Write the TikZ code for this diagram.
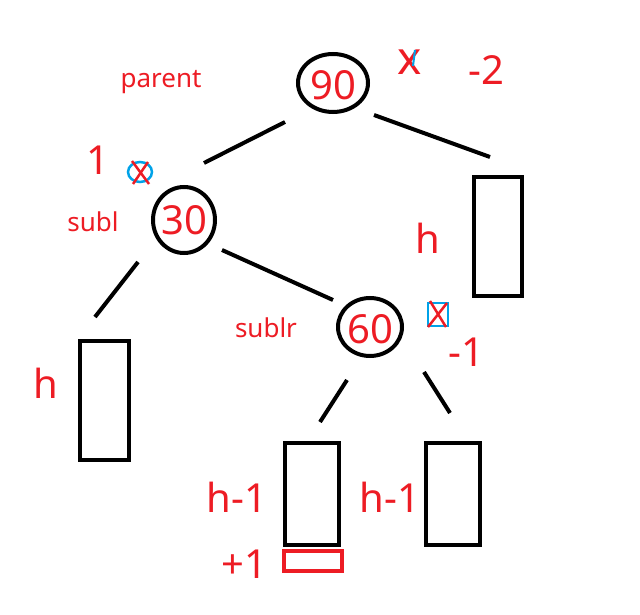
\documentclass[tikz,border=0pt]{standalone}
\usepackage{fontspec}
\setmainfont{Noto Sans}
\usetikzlibrary{shapes.geometric}
\definecolor{hred}{RGB}{237,28,36}
\definecolor{hblue}{RGB}{0,162,232}
\begin{document}
\begin{tikzpicture}[x=1pt,y=-1pt,
  subtree/.style={draw=black,line width=4pt,rectangle,inner sep=0pt},
  edge/.style={draw=black,line width=4pt},
  hand/.style={text=hred,font=\fontsize{40}{40}\selectfont,inner sep=0pt},
  lbl/.style={text=hred,font=\fontsize{26}{26}\selectfont,inner sep=0pt},
  cross/.style={draw=hred,line width=2.5pt},
  ring/.style={draw=hblue,line width=2.5pt}]
\useasboundingbox (0,0) rectangle (640,615);
% tree nodes
\draw[line width=4pt] (333,83) ellipse [x radius=35, y radius=29];
\node[hand] (n90) at (333,85) {90};
\draw[line width=4pt] (184,220) ellipse [x radius=31, y radius=33];
\node[hand] (n30) at (184,220) {30};
\draw[line width=4pt] (370,327) ellipse [x radius=32, y radius=29];
\node[hand] (n60) at (370,329) {60};
% subtrees
\node[subtree,minimum width=48,minimum height=119] (rR) at (498,236.5) {};
\node[subtree,minimum width=49,minimum height=119] (rL) at (104.5,400.5) {};
\node[subtree,minimum width=54,minimum height=102] (rA) at (312,494) {};
\node[subtree,minimum width=54,minimum height=102] (rB) at (453,494) {};
\node[draw=hred,line width=4pt,minimum width=58,minimum height=20,inner sep=0pt] (rP) at (313,561) {};
% edges
\coordinate (a1) at (285,122); \coordinate (a2) at (204,163);
\coordinate (b1) at (374,115); \coordinate (b2) at (490,157);
\coordinate (c1) at (138,262); \coordinate (c2) at (95,317);
\coordinate (d1) at (222,250); \coordinate (d2) at (333,300);
\coordinate (e1) at (347,380); \coordinate (e2) at (320,422);
\coordinate (f1) at (424,372); \coordinate (f2) at (450,413);
\draw[edge] (a1) -- (a2);
\draw[edge] (b1) -- (b2);
\draw[edge] (c1) -- (c2);
\draw[edge] (d1) -- (d2);
\draw[edge] (e1) -- (e2);
\draw[edge] (f1) -- (f2);
% labels
\node[lbl] (lp) at (161,82) {parent};
\node[lbl] (ls) at (93,222) {subl};
\node[lbl] (lsr) at (266,328) {sublr};
\node[hand,font=\fontsize{46}{46}\selectfont] (xm) at (410,62) {x};
\draw[hblue,line width=2pt] (415,50) -- (413,66);
\node[hand] (m2) at (486,70) {-2};
\node[hand] (one) at (98,160) {1};
\draw[ring] (140,172) ellipse [x radius=12, y radius=10];
\draw[cross] (132,161) -- (149,184);
\draw[cross] (148,162) -- (133,184);
\draw[ring] (428,303) rectangle (448,326);
\draw[cross] (430,301) -- (446,327);
\draw[cross] (447,303) -- (428,327);
\node[hand] (m1) at (466,352) {-1};
\node[hand] (h1) at (428,238) {h};
\node[hand] (h2) at (46,383) {h};
\node[hand] (h3) at (237,497) {h-1};
\node[hand] (h4) at (390,497) {h-1};
\node[hand] (p1) at (244,564) {+1};
\end{tikzpicture}
\end{document}
